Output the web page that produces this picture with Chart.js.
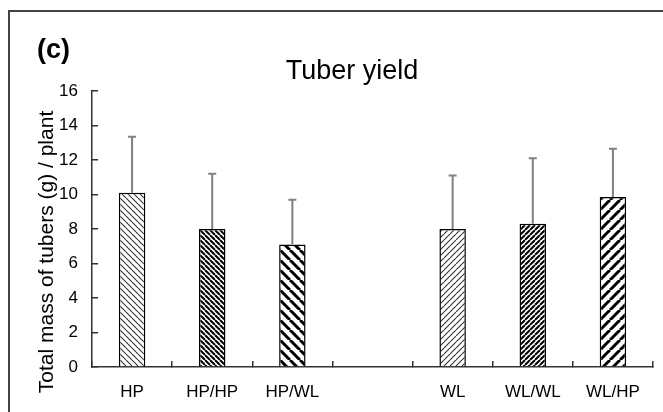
<!DOCTYPE html>
<html>
<head>
<meta charset="utf-8">
<script src="https://cdn.jsdelivr.net/npm/chart.js@4"></script>
<style>
  body { margin: 0; background: #fff; }
  canvas { display: block; }
</style>
</head>
<body>
<canvas id="myChart" width="663" height="412"></canvas>
<script>
// 데이터
const categories = ["HP", "HP/HP", "HP/WL", "", "WL", "WL/WL", "WL/HP"];
const meanMass = [10.1, 8.0, 7.1, null, 8.0, 8.3, 9.85];
const errUp = [3.25, 3.2, 2.6, null, 3.1, 3.8, 2.8];
const yTicks = [0, 2, 4, 6, 8, 10, 12, 14, 16];

const FONT = "'Liberation Sans', Arial, sans-serif";

// 빗금 패턴 만들기
function hatch(size, lw, color, dir) {
  const c = document.createElement("canvas");
  c.width = size;
  c.height = size;
  const g = c.getContext("2d");
  g.fillStyle = "#fff";
  g.fillRect(0, 0, size, size);
  g.strokeStyle = color;
  g.lineWidth = lw;
  g.beginPath();
  for (let k = -size; k <= size; k += size) {
    if (dir === "\\") {
      g.moveTo(k, 0);
      g.lineTo(k + size, size);
    } else {
      g.moveTo(k, size);
      g.lineTo(k + size, 0);
    }
  }
  g.stroke();
  return g.createPattern(c, "repeat");
}

const fills = [
  hatch(6, 1.1, "#333", "\\"),
  hatch(5, 2, "#000", "\\"),
  hatch(10, 3, "#000", "\\"),
  "#fff",
  hatch(6, 1.1, "#333", "/"),
  hatch(5, 2, "#000", "/"),
  hatch(10, 3, "#000", "/"),
];

// 오차 막대 + 제목 + 테두리
const extras = {
  id: "extras",
  afterDatasetsDraw(chart) {
    const ctx = chart.ctx;
    const y = chart.scales.y;
    const meta = chart.getDatasetMeta(0);
    ctx.save();
    ctx.strokeStyle = "#808080";
    ctx.lineWidth = 2;
    meta.data.forEach((bar, i) => {
      if (meanMass[i] == null) return;
      const top = y.getPixelForValue(meanMass[i] + errUp[i]);
      ctx.beginPath();
      ctx.moveTo(bar.x, bar.y);
      ctx.lineTo(bar.x, top);
      ctx.moveTo(bar.x - 4, top);
      ctx.lineTo(bar.x + 4, top);
      ctx.stroke();
    });
    ctx.restore();
  },
  afterDraw(chart) {
    const ctx = chart.ctx;
    ctx.save();
    ctx.strokeStyle = "#444";
    ctx.lineWidth = 2;
    ctx.strokeRect(9, 11, 700, 500);

    ctx.fillStyle = "#000";
    ctx.font = "bold 27px " + FONT;
    ctx.textAlign = "left";
    ctx.textBaseline = "alphabetic";
    ctx.fillText("(c)", 37, 58);

    ctx.font = "27px " + FONT;
    ctx.textAlign = "center";
    ctx.fillText("Tuber yield", 352, 79);

    ctx.translate(53, 252);
    ctx.rotate(-Math.PI / 2);
    ctx.font = "21px " + FONT;
    ctx.fillText("Total mass of tubers (g) / plant", 0, 0);
    ctx.restore();
  },
};

const ctx = document.getElementById("myChart").getContext("2d");

const myChart = new Chart(ctx, {
  type: "bar",
  data: {
    labels: categories,
    datasets: [
      {
        data: meanMass,
        backgroundColor: fills,
        borderColor: "#000",
        borderWidth: 1.5,
        barPercentage: 0.33,
        categoryPercentage: 1,
      },
    ],
  },
  options: {
    responsive: false,
    animation: false,
    layout: { padding: { top: 91, right: 10, left: 0, bottom: 0 } },
    plugins: {
      legend: { display: false },
      tooltip: { enabled: false },
    },
    scales: {
      x: {
        afterFit(scale) {
          scale.height = 45;
        },
        grid: {
          drawOnChartArea: false,
          drawTicks: true,
          tickLength: -6,
          color: "#333",
          lineWidth: 1.5,
        },
        border: { color: "#333", width: 1.5 },
        ticks: {
          color: "#000",
          font: { family: FONT, size: 17 },
          padding: 21,
        },
      },
      y: {
        min: 0,
        max: 16,
        afterFit(scale) {
          scale.width = 92;
        },
        afterBuildTicks(scale) {
          scale.ticks = yTicks.map((v) => ({ value: v }));
        },
        grid: {
          drawOnChartArea: false,
          drawTicks: true,
          tickLength: -6,
          color: "#333",
          lineWidth: 1.5,
        },
        border: { color: "#333", width: 1.5 },
        ticks: {
          color: "#000",
          font: { family: FONT, size: 17 },
          padding: 20,
        },
      },
    },
  },
  plugins: [extras],
});
</script>
</body>
</html>
